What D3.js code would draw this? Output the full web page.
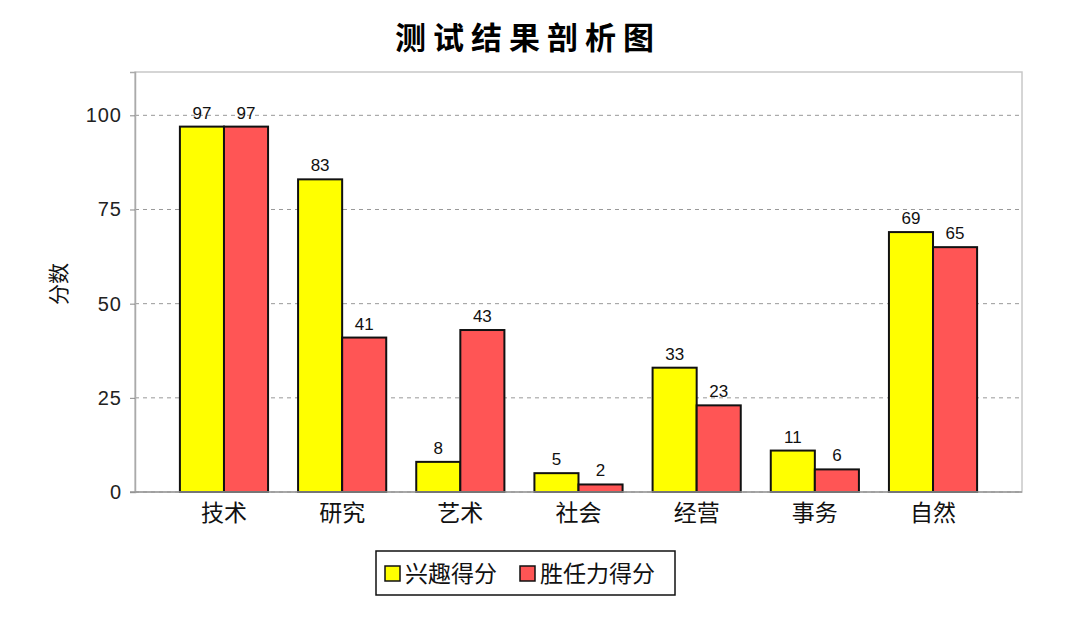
<!DOCTYPE html>
<html>
<head>
<meta charset="utf-8">
<script src="https://cdn.jsdelivr.net/npm/d3@7"></script>
<style>
  body { margin:0; background:#fff; }
  svg text { font-family: "Noto Sans CJK SC", "Liberation Sans", sans-serif; }
</style>
</head>
<body>
<div id="chart"></div>
<script>
// data
var categories = ['技术', '研究', '艺术', '社会', '经营', '事务', '自然'];
var seriesNames = ['兴趣得分', '胜任力得分'];
var interest = [97, 83, 8, 5, 33, 11, 69];
var competence = [97, 41, 43, 2, 23, 6, 65];
var yTicks = [0, 25, 50, 75, 100];
var colors = ['#ffff00', '#ff5555'];

var width = 1080, height = 617;
var margin = {top: 72, bottom: 125, left: 135, right: 58};

var svg = d3.select('#chart')
    .append('svg')
    .attr('width', width)
    .attr('height', height)
    .style('background', '#fff');

// scales
var x0 = d3.scaleBand()
    .domain(categories)
    .range([margin.left, width - margin.right])
    .paddingInner(0.254)
    .paddingOuter(0.38);

var x1 = d3.scaleBand()
    .domain(seriesNames)
    .range([0, x0.bandwidth()]);

var y = d3.scaleLinear()
    .domain([0, 111.5])
    .range([height - margin.bottom, margin.top]);

// plot frame
svg.append('rect')
    .attr('x', margin.left)
    .attr('y', margin.top)
    .attr('width', width - margin.left - margin.right)
    .attr('height', height - margin.top - margin.bottom)
    .attr('fill', '#fff')
    .attr('stroke', '#c8c8c8')
    .attr('stroke-width', 1.5);

// grid lines
svg.append('g')
    .selectAll('line')
    .data(yTicks)
    .enter()
    .append('line')
    .attr('x1', margin.left)
    .attr('x2', width - margin.right)
    .attr('y1', function(d){ return y(d); })
    .attr('y2', function(d){ return y(d); })
    .attr('stroke', '#999')
    .attr('stroke-dasharray', '4,4');

// y axis
var yAxis = svg.append('g')
    .attr('transform', `translate(${margin.left},0)`)
    .call(d3.axisLeft(y).tickValues(yTicks).tickSize(5).tickPadding(8));
yAxis.select('.domain').attr('stroke', '#aaa').attr('stroke-width', 1.5);
yAxis.selectAll('.tick line').attr('stroke', '#888');
yAxis.selectAll('.tick text')
    .style('font-family', '"Liberation Sans", Arial, sans-serif')
    .style('font-size', '20px')
    .style('letter-spacing', '1px')
    .attr('fill', '#222');

// x axis labels
var xAxis = svg.append('g')
    .attr('transform', `translate(0,${height - margin.bottom})`)
    .call(d3.axisBottom(x0).tickSize(0).tickPadding(13));
xAxis.select('.domain').remove();
xAxis.selectAll('.tick text')
    .style('font-size', '23px')
    .attr('fill', '#111');

// y label
svg.append('text')
    .attr('transform', 'translate(66,284) rotate(-90)')
    .attr('text-anchor', 'middle')
    .style('font-size', '21px')
    .attr('fill', '#111')
    .text('分数');

// bars
var rows = categories.map(function(c, i){
    return {cat: c, values: [
        {name: seriesNames[0], value: interest[i], color: colors[0]},
        {name: seriesNames[1], value: competence[i], color: colors[1]}
    ]};
});

var groups = svg.append('g')
    .selectAll('g')
    .data(rows)
    .enter()
    .append('g')
    .attr('transform', function(d){ return `translate(${x0(d.cat)},0)`; });

groups.selectAll('rect')
    .data(function(d){ return d.values; })
    .enter()
    .append('rect')
    .attr('x', function(d){ return x1(d.name); })
    .attr('y', function(d){ return y(d.value); })
    .attr('width', x1.bandwidth())
    .attr('height', function(d){ return y(0) - y(d.value); })
    .attr('fill', function(d){ return d.color; })
    .attr('stroke', '#111')
    .attr('stroke-width', 2);

groups.selectAll('text')
    .data(function(d){ return d.values; })
    .enter()
    .append('text')
    .attr('x', function(d){ return x1(d.name) + x1.bandwidth() / 2; })
    .attr('y', function(d){ return y(d.value) - 8; })
    .attr('text-anchor', 'middle')
    .style('font-family', '"Liberation Sans", Arial, sans-serif')
    .style('font-size', '17px')
    .attr('fill', '#111')
    .text(function(d){ return d.value; });

// baseline
svg.append('line')
    .attr('x1', margin.left - 5)
    .attr('x2', width - margin.right)
    .attr('y1', y(0))
    .attr('y2', y(0))
    .attr('stroke', '#999')
    .attr('stroke-width', 1.5);

// title
svg.append('text')
    .attr('x', 528)
    .attr('y', 49)
    .attr('text-anchor', 'middle')
    .style('font-size', '31px')
    .style('font-weight', 'bold')
    .style('letter-spacing', '7px')
    .attr('fill', '#000')
    .text('测试结果剖析图');

// legend
var legend = svg.append('g').attr('transform', 'translate(376,551)');
legend.append('rect')
    .attr('width', 299)
    .attr('height', 44)
    .attr('fill', '#fff')
    .attr('stroke', '#111')
    .attr('stroke-width', 1.5);

var legendX = [9, 144];
var items = legend.selectAll('g.item')
    .data(seriesNames)
    .enter()
    .append('g')
    .attr('class', 'item')
    .attr('transform', function(d, i){ return `translate(${legendX[i]},0)`; });
items.append('rect')
    .attr('x', 0)
    .attr('y', 15)
    .attr('width', 15)
    .attr('height', 15)
    .attr('fill', function(d, i){ return colors[i]; })
    .attr('stroke', '#111')
    .attr('stroke-width', 1.5);
items.append('text')
    .attr('x', 20)
    .attr('y', 31)
    .style('font-size', '23px')
    .attr('fill', '#111')
    .text(function(d){ return d; });
</script>
</body>
</html>
